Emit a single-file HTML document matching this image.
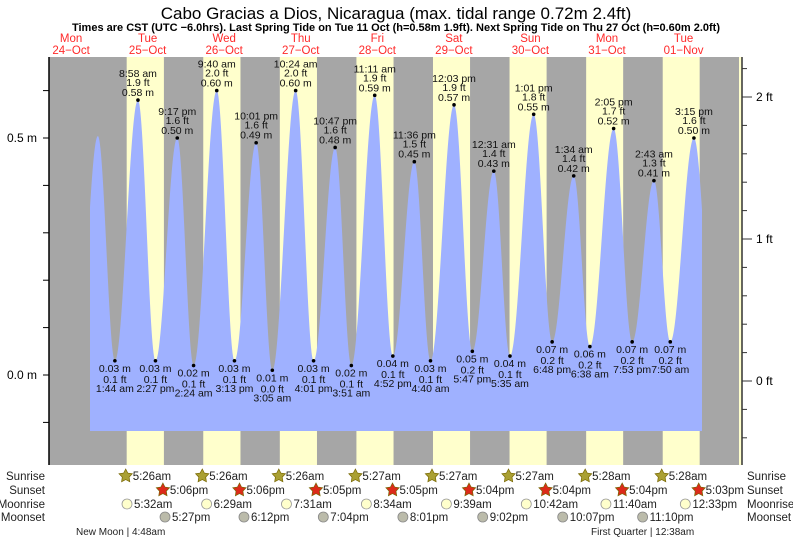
<!DOCTYPE html>
<html><head><meta charset="utf-8">
<style>
html,body{margin:0;padding:0;background:#fff;}
svg{display:block;font-family:"Liberation Sans",sans-serif;}
</style></head><body>
<svg id="s" width="793" height="539" xmlns="http://www.w3.org/2000/svg"></svg>
<script>
const S=document.getElementById('s');
let h='';
const X0=32.8,PX=3.19;
const xt=t=>X0+PX*t;
const ym=m=>375-474*m;
const TOP=57,BOT=465,L=49,R=741;
// background
h+=`<rect x="${L}" y="${TOP}" width="${R-L}" height="${BOT-TOP}" fill="#a6a6a6"/>`;
const sr=[5+26/60,5+26/60,5+26/60,5+27/60,5+27/60,5+27/60,5+28/60,5+28/60];
const ss=[17+6/60,17+6/60,17+5/60,17+5/60,17+4/60,17+4/60,17+4/60,17+3/60];
for(let d=0;d<8;d++){const b=(d+1)*24;const a=xt(b+sr[d]),e=xt(b+ss[d]);
h+=`<rect x="${a}" y="${TOP}" width="${e-a}" height="${BOT-TOP}" fill="#ffffcc"/>`;}
h+=`<rect x="${R-2}" y="${TOP}" width="3" height="${BOT-TOP}" fill="#ffffcc"/>`;
// tides
function tm(d,s){let [hh,mm]=s.split(/[: ]/);hh=+hh;mm=+mm;const pm=s.includes('pm');if(hh==12)hh=0;if(pm)hh+=12;return d*24+hh+mm/60;}
const ex=[
[13.9,0.03,null],[20.4,0.504,null],
[tm(1,'1:44 am'),0.03,'0.1','1:44 am'],[tm(1,'8:58 am'),0.58,'1.9','8:58 am'],
[tm(1,'2:27 pm'),0.03,'0.1','2:27 pm'],[tm(1,'9:17 pm'),0.50,'1.6','9:17 pm'],
[tm(2,'2:24 am'),0.02,'0.1','2:24 am'],[tm(2,'9:40 am'),0.60,'2.0','9:40 am'],
[tm(2,'3:13 pm'),0.03,'0.1','3:13 pm'],[tm(2,'10:01 pm'),0.49,'1.6','10:01 pm'],
[tm(3,'3:05 am'),0.01,'0.0','3:05 am'],[tm(3,'10:24 am'),0.60,'2.0','10:24 am'],
[tm(3,'4:01 pm'),0.03,'0.1','4:01 pm'],[tm(3,'10:47 pm'),0.48,'1.6','10:47 pm'],
[tm(4,'3:51 am'),0.02,'0.1','3:51 am'],[tm(4,'11:11 am'),0.59,'1.9','11:11 am'],
[tm(4,'4:52 pm'),0.04,'0.1','4:52 pm'],[tm(4,'11:36 pm'),0.45,'1.5','11:36 pm'],
[tm(5,'4:40 am'),0.03,'0.1','4:40 am'],[tm(5,'12:03 pm'),0.57,'1.9','12:03 pm'],
[tm(5,'5:47 pm'),0.05,'0.2','5:47 pm'],[tm(6,'12:31 am'),0.43,'1.4','12:31 am'],
[tm(6,'5:35 am'),0.04,'0.1','5:35 am'],[tm(6,'1:01 pm'),0.55,'1.8','1:01 pm'],
[tm(6,'6:48 pm'),0.07,'0.2','6:48 pm'],[tm(7,'1:34 am'),0.42,'1.4','1:34 am'],
[tm(7,'6:38 am'),0.06,'0.2','6:38 am'],[tm(7,'2:05 pm'),0.52,'1.7','2:05 pm'],
[tm(7,'7:53 pm'),0.07,'0.2','7:53 pm'],[tm(8,'2:43 am'),0.41,'1.3','2:43 am'],
[tm(8,'7:50 am'),0.07,'0.2','7:50 am'],[tm(8,'3:15 pm'),0.50,'1.6','3:15 pm'],
[213.5,0.07,null]];
function hAt(t){for(let i=0;i<ex.length-1;i++){const a=ex[i],b=ex[i+1];if(t>=a[0]&&t<=b[0]){const f=(t-a[0])/(b[0]-a[0]);return a[1]+(b[1]-a[1])*(1-Math.cos(Math.PI*f))/2;}}return 0;}
const xa=90,xb=702;
let p=`M${xa},431`;
for(let x=xa;x<=xb;x+=0.5){p+=`L${x},${ym(hAt((x-X0)/PX)).toFixed(1)}`;}
p+=`L${xb},431Z`;
h+=`<path d="${p}" fill="#9fb1ff"/>`;
// labels
let lab='';
ex.forEach(e=>{if(!e[2])return;const x=xt(e[0]),y=ym(e[1]);const hi=e[1]>0.3;
lab+=`<circle cx="${x}" cy="${y}" r="1.8" fill="#000"/>`;
const m=e[1].toFixed(2)+' m';
if(hi){lab+=`<text x="${x}" y="${y-4}">${m}</text><text x="${x}" y="${y-14}">${e[2]} ft</text><text x="${x}" y="${y-23}">${e[3]}</text>`;}
else{lab+=`<text x="${x}" y="${y+11}">${m}</text><text x="${x}" y="${y+22}">${e[2]} ft</text><text x="${x}" y="${y+31}">${e[3]}</text>`;}
});
h+=`<g font-size="10.5" text-anchor="middle" fill="#111">${lab}</g>`;
// axes
h+=`<line x1="${L}" y1="${TOP}" x2="${L}" y2="${BOT}" stroke="#000" stroke-width="1.5"/>`;
for(let i=-1;i<=6;i++){const y=ym(i*0.1);if(y<TOP||y>BOT)continue;h+=`<line x1="${L-6}" y1="${y}" x2="${L}" y2="${y}" stroke="#000"/>`;}
h+=`<text x="37" y="142" font-size="12" text-anchor="end">0.5 m</text><text x="37" y="379" font-size="12" text-anchor="end">0.0 m</text>`;
h+=`<line x1="742" y1="${TOP}" x2="742" y2="${BOT}" stroke="#333" stroke-width="1.5"/>`;
for(let i=-4;i<=11;i++){const y=381-142*i*0.2;if(y<TOP||y>BOT)continue;const big=i%5==0;h+=`<line x1="742" y1="${y}" x2="${big?752:747}" y2="${y}" stroke="#333"/>`;}
h+=`<g font-size="12"><text x="756" y="101">2 ft</text><text x="756" y="243">1 ft</text><text x="756" y="385">0 ft</text></g>`;
// titles
h+=`<text x="396" y="19" font-size="17" text-anchor="middle">Cabo Gracias a Dios, Nicaragua (max. tidal range 0.72m 2.4ft)</text>`;
h+=`<text x="396" y="31" font-size="11" font-weight="bold" text-anchor="middle">Times are CST (UTC −6.0hrs). Last Spring Tide on Tue 11 Oct (h=0.58m 1.9ft). Next Spring Tide on Thu 27 Oct (h=0.60m 2.0ft)</text>`;
const dn=['Mon','Tue','Wed','Thu','Fri','Sat','Sun','Mon','Tue'],dd=['24−Oct','25−Oct','26−Oct','27−Oct','28−Oct','29−Oct','30−Oct','31−Oct','01−Nov'];
let dl='';for(let d=0;d<9;d++){const x=xt(d*24+12);dl+=`<text x="${x}" y="42">${dn[d]}</text><text x="${x}" y="54">${dd[d]}</text>`;}
h+=`<g font-size="11.5" fill="#ff2a2a" text-anchor="middle">${dl}</g>`;
// bottom rows
const rows=[['Sunrise',480],['Sunset',494],['Moonrise',508],['Moonset',521]];
let bl='';rows.forEach(r=>{bl+=`<text x="45" y="${r[1]}" text-anchor="end">${r[0]}</text><text x="747" y="${r[1]}">${r[0]}</text>`;});
function star(cx,cy,f){let pts=[];for(let i=0;i<10;i++){const a=-Math.PI/2+i*Math.PI/5,rr=i%2?3.6:7;pts.push((cx+rr*Math.cos(a)).toFixed(1)+','+(cy+rr*Math.sin(a)).toFixed(1));}return `<polygon points="${pts.join(' ')}" fill="${f}" stroke="#776600" stroke-width="0.7"/>`;}
function fmt(t){let hh=Math.floor(t),mm=Math.round((t-hh)*60);const ap=hh>=12?'pm':'am';let h12=hh%12;if(h12==0)h12=12;return h12+':'+String(mm).padStart(2,'0')+ap;}
for(let d=0;d<8;d++){const b=(d+1)*24;
let x=xt(b+sr[d]);bl+=star(x-1,476,'#aaa033')+`<text x="${x+6}" y="480">${fmt(sr[d])}</text>`;
x=xt(b+ss[d]);bl+=star(x-1,490,'#dd2a1a')+`<text x="${x+6}" y="494">${fmt(ss[d])}</text>`;}
const mr=[[1,'5:32am'],[2,'6:29am'],[3,'7:31am'],[4,'8:34am'],[5,'9:39am'],[6,'10:42am'],[7,'11:40am'],[8,'12:33pm']];
const ms=[[1,'5:27pm'],[2,'6:12pm'],[3,'7:04pm'],[4,'8:01pm'],[5,'9:02pm'],[6,'10:07pm'],[7,'11:10pm']];
function tt(d,s){let m=s.match(/(\d+):(\d+)(am|pm)/);let hh=+m[1]%12;if(m[3]=='pm')hh+=12;return d*24+hh+(+m[2])/60;}
mr.forEach(r=>{const x=xt(tt(r[0],r[1]));bl+=`<circle cx="${x}" cy="504" r="5" fill="#ffffcc" stroke="#999" stroke-width="0.8"/><text x="${x+7}" y="508">${r[1]}</text>`;});
ms.forEach(r=>{const x=xt(tt(r[0],r[1]));bl+=`<circle cx="${x}" cy="517" r="5" fill="#bbbbaa" stroke="#888" stroke-width="0.8"/><text x="${x+7}" y="521">${r[1]}</text>`;});
h+=`<g font-size="11.5" fill="#222">${bl}</g>`;
h+=`<g font-size="10" fill="#222"><text x="76" y="535">New Moon | 4:48am</text><text x="591" y="535">First Quarter | 12:38am</text></g>`;
S.innerHTML=h;
</script>
</body></html>
